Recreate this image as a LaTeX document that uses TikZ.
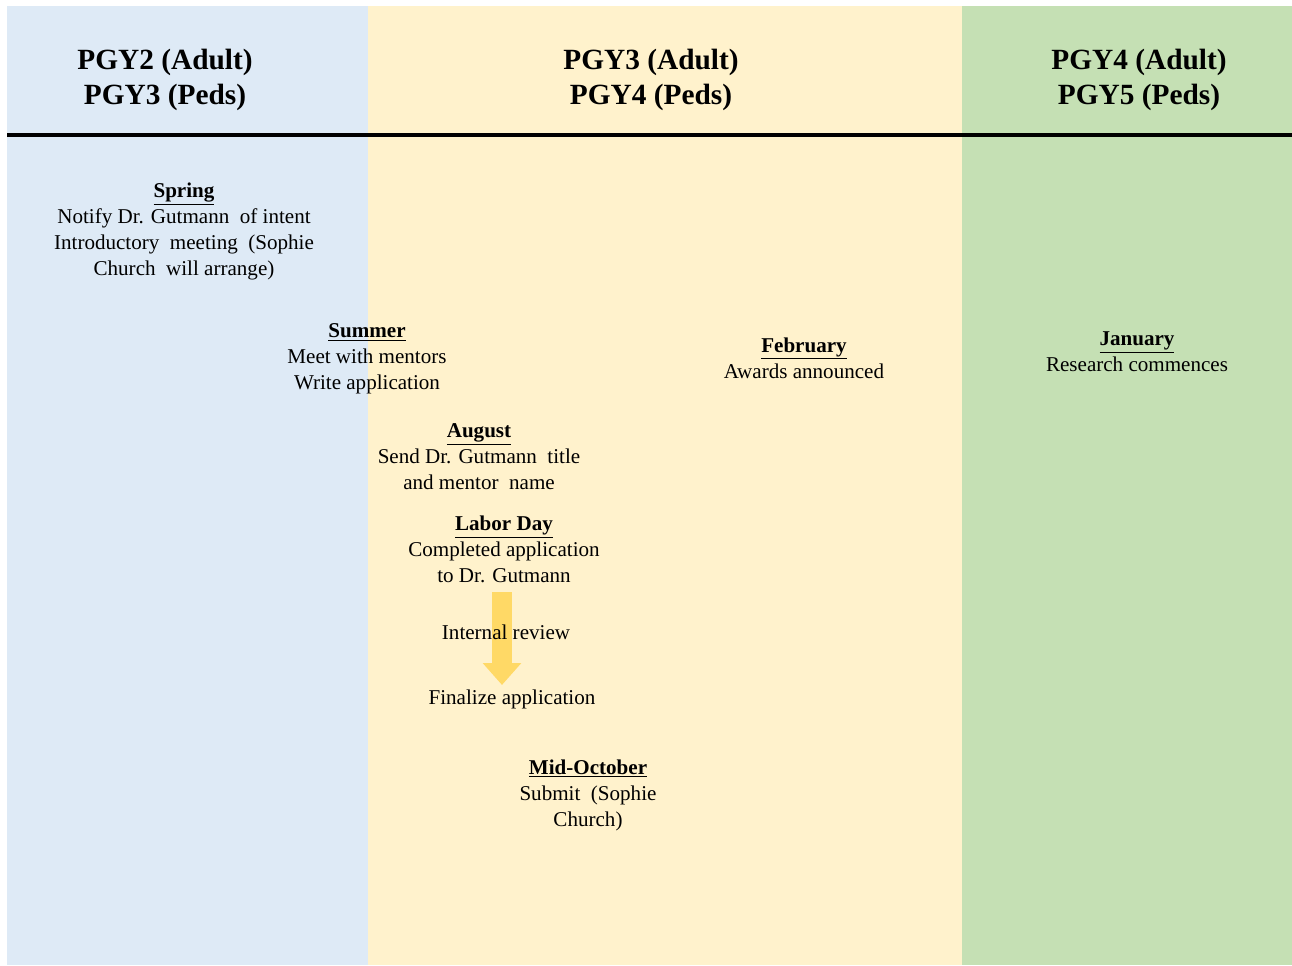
\documentclass[tikz,border=0pt]{standalone}
\usepackage{fontspec}
\setmainfont{Liberation Serif}
\usepackage{xcolor}
\usepackage{tikz}
\usetikzlibrary{positioning,arrows.meta}

\definecolor{pgyblue}{HTML}{DEEAF6}
\definecolor{pgyyellow}{HTML}{FFF2CC}
\definecolor{pgygreen}{HTML}{C5E0B4}
\definecolor{arrowgold}{HTML}{FFD966}

\newcommand{\evhead}[1]{\underline{\textbf{#1}}}

\begin{document}
\begin{tikzpicture}[x=0.75pt,y=-0.75pt,
						header/.style={align=center, font=\fontsize{22}{26}\selectfont\bfseries, inner sep=0pt},
						event/.style={align=center, font=\fontsize{15.8}{19.5}\selectfont, inner sep=0pt},
						rule/.style={line width=3pt, black},
						review/.style={line width=15pt, arrowgold, -{Triangle[length=16.5pt, width=28pt]}}
						]
						\useasboundingbox[fill=white] (0,0) rectangle (1292,966);
						
						% year columns
						\fill[pgyblue]   (7,6)   rectangle (368,965);
						\fill[pgyyellow] (368,6) rectangle (962,965);
						\fill[pgygreen]  (962,6) rectangle (1292,965);
						
						\node[header] (pgyA) at (165,80)  {PGY2 (Adult)\\PGY3 (Peds)};
						\node[header] (pgyB) at (651,80)  {PGY3 (Adult)\\PGY4 (Peds)};
						\node[header] (pgyC) at (1139,80) {PGY4 (Adult)\\PGY5 (Peds)};
						
						\coordinate (ruleL) at (7,135);
						\coordinate (ruleR) at (1292,135);
						\draw[rule] (ruleL) -- (ruleR);
						
						% review arrow
						\coordinate (revtop) at (502,592);
						\coordinate (revbot) at (502,685);
						\draw[review] (revtop) -- (revbot);
						
						% events
						\node[event] (spring) at (184,231.5) {\evhead{Spring}\\Notify Dr. Gutmann\ \ of intent\\Introductory\ \ meeting\ \ (Sophie\\Church\ \ will arrange)};
						\node[event] (summer) at (367,359) {\evhead{Summer}\\Meet with mentors\\Write application};
						\node[event] (feb) at (804,358) {\evhead{February}\\Awards announced};
						\node[event] (jan) at (1137,352) {\evhead{January}\\Research commences};
						\node[event] (aug) at (479,456.5) {\evhead{August}\\Send Dr. Gutmann\ \ title\\and mentor\ \ name};
						\node[event] (labor) at (504,549.5) {\evhead{Labor Day}\\Completed application\\to Dr. Gutmann};
						\node[event] (internal) at (506,632) {Internal review};
						\node[event] (final) at (512,699) {Finalize application};
						\node[event] (midoct) at (588,795.5) {\evhead{Mid-October}\\Submit\ \ (Sophie\\Church)};
					\end{tikzpicture}
\end{document}
